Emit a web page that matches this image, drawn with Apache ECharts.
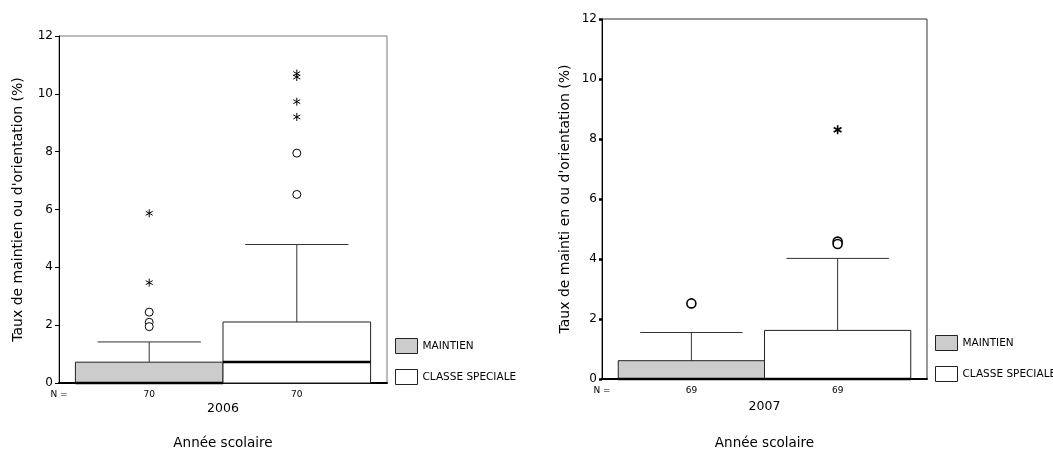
<!DOCTYPE html>
<html>
<head>
<meta charset="utf-8">
<script src="https://cdn.jsdelivr.net/npm/echarts@6/dist/echarts.min.js"></script>
<style>
html, body { margin: 0; padding: 0; background: #fff; }
#chart { width: 1053px; height: 452px; }
</style>
</head>
<body>
<div id="chart"></div>
<script>
var years = ['2006', '2007'];
var groups = ['MAINTIEN', 'CLASSE SPECIALE'];
var groupColors = ['#cccccc', '#ffffff'];
var counts = [[70, 70], [69, 69]];
// [min, Q1, median, Q3, max] for MAINTIEN then CLASSE SPECIALE
var boxes2006 = [[0, 0, 0, 0.72, 1.42], [0, 0, 0.73, 2.11, 4.79]];
var boxes2007 = [[0, 0, 0, 0.61, 1.55], [0, 0, 0, 1.62, 4.02]];
// outliers (o) and extremes (*)
var circles2006 = [[2.45, 2.1, 1.95], [7.95, 6.52]];
var stars2006 = [[5.87, 3.47], [10.7, 10.58, 9.73, 9.2]];
var circles2007 = [[2.52], [4.58, 4.5]];
var stars2007 = [[], [8.31]];
var yNames = ["Taux de maintien ou d'orientation (%)", "Taux de mainti en ou d'orientation (%)"];

var boxes = [boxes2006, boxes2007];
var circles = [circles2006, circles2007];
var stars = [stars2006, stars2007];

var font = 'DejaVu Sans';
var BOX_FRAC = 0.45;

function groupX(api, cat, g) {
  var band = api.size([1, 0])[0];
  var w = band * BOX_FRAC;
  var c = api.coord([cat, 0])[0];
  return { cx: c + (g === 0 ? -w / 2 : w / 2), w: w };
}

function renderBox(params, api) {
  var cat = api.value(0), g = api.value(1);
  var gx = groupX(api, cat, g);
  var cx = gx.cx, w = gx.w;
  var yMin = api.coord([cat, api.value(2)])[1];
  var yQ1 = api.coord([cat, api.value(3)])[1];
  var yMed = api.coord([cat, api.value(4)])[1];
  var yQ3 = api.coord([cat, api.value(5)])[1];
  var yMax = api.coord([cat, api.value(6)])[1];
  var cap = w * 0.35;
  var wl = { stroke: '#333', lineWidth: 1 };
  var cs = params.coordSys;
  var nY = cs.y + cs.height + 11.5;
  var kids = [
    { type: 'line', shape: { x1: cx, y1: yQ3, x2: cx, y2: yMax }, style: wl },
    { type: 'line', shape: { x1: cx - cap, y1: yMax, x2: cx + cap, y2: yMax }, style: wl }
  ];
  if (api.value(2) < api.value(3)) {
    kids.push({ type: 'line', shape: { x1: cx, y1: yQ1, x2: cx, y2: yMin }, style: wl });
    kids.push({ type: 'line', shape: { x1: cx - cap, y1: yMin, x2: cx + cap, y2: yMin }, style: wl });
  }
  kids.push({ type: 'rect', shape: { x: cx - w / 2, y: yQ3, width: w, height: yQ1 - yQ3 },
    style: { fill: api.visual('color'), stroke: '#222', lineWidth: 1 } });
  kids.push({ type: 'line', shape: { x1: cx - w / 2, y1: yMed, x2: cx + w / 2, y2: yMed },
    style: { stroke: '#000', lineWidth: 2.5 } });
  kids.push({ type: 'text', x: cx, y: nY,
    style: { text: String(api.value(7)), fill: '#000', font: '9px ' + font, align: 'center', verticalAlign: 'middle' } });
  if (g === 0) {
    kids.push({ type: 'text', x: cs.x, y: nY,
      style: { text: 'N =', fill: '#000', font: '9px ' + font, align: 'center', verticalAlign: 'middle' } });
  }
  return { type: 'group', children: kids };
}

function renderOutlier(params, api) {
  var cat = api.value(0), g = api.value(1);
  var gx = groupX(api, cat, g);
  var cx = gx.cx;
  var cy = api.coord([cat, api.value(2)])[1];
  var r = api.value(4) === 1 ? 4.5 : 4;
  var lw = api.value(4) === 1 ? 1.6 : 1;
  if (api.value(3) === 0) {
    return { type: 'circle', shape: { cx: cx, cy: cy, r: r }, style: { fill: '#fff', stroke: '#000', lineWidth: lw } };
  }
  var s = r, dx = s * Math.cos(Math.PI / 6), dy = s * Math.sin(Math.PI / 6);
  var st = { stroke: '#000', lineWidth: lw };
  return { type: 'group', children: [
    { type: 'line', shape: { x1: cx, y1: cy - s, x2: cx, y2: cy + s }, style: st },
    { type: 'line', shape: { x1: cx - dx, y1: cy - dy, x2: cx + dx, y2: cy + dy }, style: st },
    { type: 'line', shape: { x1: cx - dx, y1: cy + dy, x2: cx + dx, y2: cy - dy }, style: st }
  ] };
}

var grids = [
  { left: 59, top: 36, width: 328, height: 347, show: true, borderColor: '#777', borderWidth: 1, outerBoundsMode: 'none' },
  { left: 602, top: 19, width: 325, height: 360, show: true, borderColor: '#333', borderWidth: 1, outerBoundsMode: 'none' }
];
var xAxes = [], yAxes = [], series = [], legends = [];
var legendTops = [338, 335], legendLefts = [395, 935];
var labelMargins = [19, 21], nameGapsX = [53, 57], nameGapsY = [34, 30];

for (var i = 0; i < years.length; i++) {
  xAxes.push({
    type: 'category', gridIndex: i, data: [years[i]],
    axisLine: { lineStyle: { color: '#000', width: 2 } },
    axisTick: { alignWithLabel: true, length: 4, lineStyle: { color: '#000', width: 2 } },
    axisLabel: { margin: labelMargins[i], color: '#000', fontSize: 12.5, fontFamily: font },
    name: 'Année scolaire', nameLocation: 'middle', nameGap: nameGapsX[i],
    nameTextStyle: { color: '#000', fontSize: 13.5, fontFamily: font }
  });
  yAxes.push({
    type: 'value', gridIndex: i, min: 0, max: 12, interval: 2,
    axisLine: { show: true, lineStyle: { color: '#000', width: 1 } },
    axisTick: { show: true, length: i === 0 ? 4 : 3, lineStyle: { color: '#000', width: i === 0 ? 1 : 2.5 } },
    axisLabel: { margin: i === 0 ? 6 : 5, color: '#000', fontSize: 12, fontFamily: font },
    splitLine: { show: false },
    name: yNames[i], nameLocation: 'middle', nameGap: nameGapsY[i],
    nameTextStyle: { color: '#000', fontSize: 14, fontFamily: font }
  });
  for (var g = 0; g < groups.length; g++) {
    var b = boxes[i][g];
    series.push({
      type: 'custom', name: groups[g], xAxisIndex: i, yAxisIndex: i,
      itemStyle: { color: groupColors[g] },
      renderItem: renderBox,
      encode: { x: 0, y: [2, 3, 4, 5, 6] },
      data: [[0, g, b[0], b[1], b[2], b[3], b[4], counts[i][g]]],
      z: 3, silent: true
    });
    var pts = [];
    circles[i][g].forEach(function (v) { pts.push([0, g, v, 0, i]); });
    stars[i][g].forEach(function (v) { pts.push([0, g, v, 1, i]); });
    series.push({
      type: 'custom', name: 'outliers' + i + g, xAxisIndex: i, yAxisIndex: i,
      renderItem: renderOutlier,
      encode: { x: 0, y: 2 },
      data: pts, z: 4, silent: true
    });
  }
  legends.push({
    orient: 'vertical', left: legendLefts[i], top: legendTops[i], padding: 0,
    itemWidth: 22, itemHeight: 15, itemGap: 15, selectedMode: false,
    textStyle: { color: '#000', fontSize: 10.5, fontFamily: font },
    data: groups.map(function (name, k) {
      return { name: name, icon: 'rect', itemStyle: { color: groupColors[k], borderColor: '#222', borderWidth: 1 } };
    })
  });
}

var chart = echarts.init(document.getElementById('chart'));
chart.setOption({
  animation: false,
  backgroundColor: '#fff',
  grid: grids,
  xAxis: xAxes,
  yAxis: yAxes,
  legend: legends,
  series: series
});
</script>
</body>
</html>
